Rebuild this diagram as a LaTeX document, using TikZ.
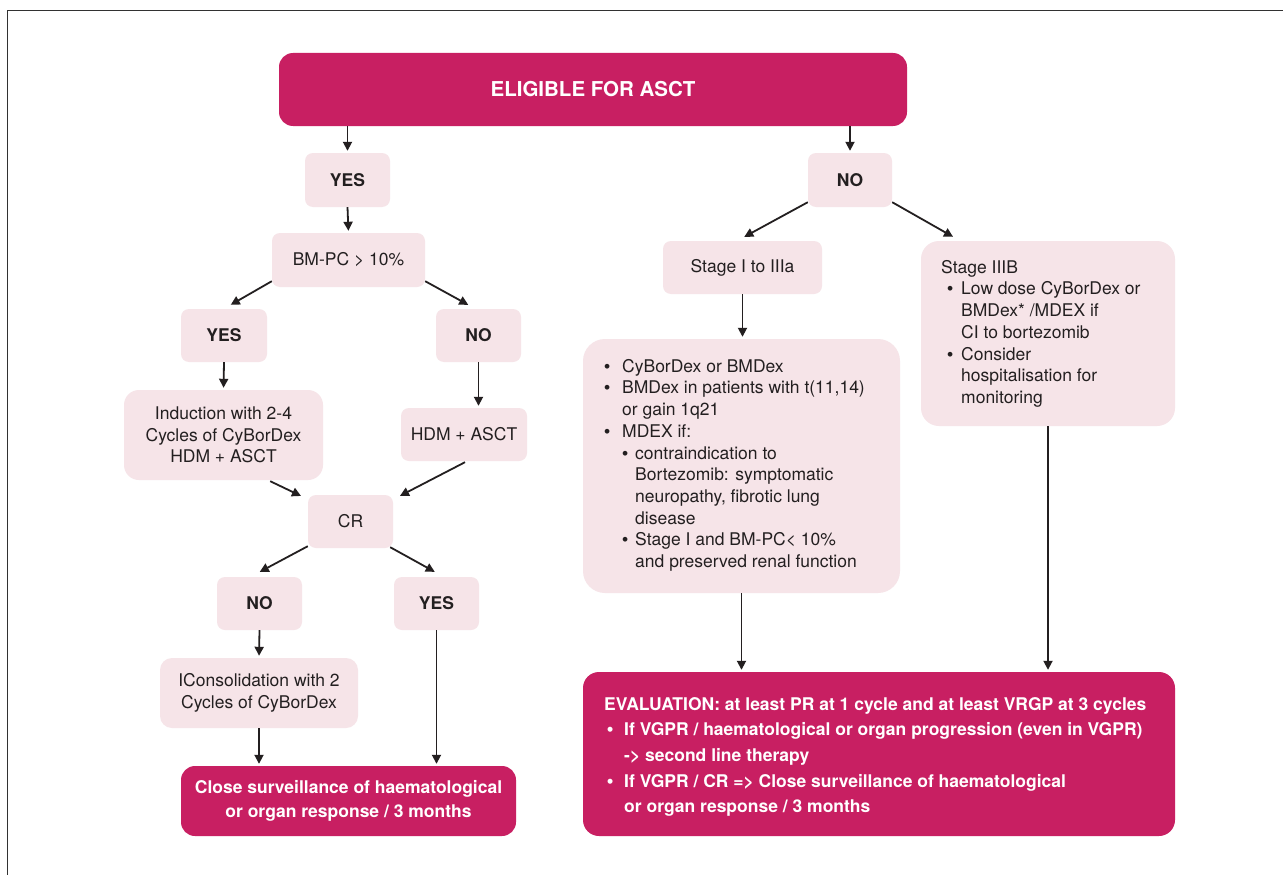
\documentclass[tikz,border=0pt]{standalone}
\usepackage{fontspec}
\setmainfont{TeX Gyre Heros}
\newfontfamily\bulfont{Liberation Sans}
\usetikzlibrary{arrows.meta,calc}
\definecolor{mag}{RGB}{200,31,98}
\definecolor{lpink}{RGB}{246,228,232}
\definecolor{ink}{RGB}{35,31,32}
\definecolor{framec}{RGB}{50,50,50}
\newcommand{\txtf}{\fontsize{17.5}{21.7}\selectfont}
\newcommand{\txtbf}{\fontsize{17.5}{24}\selectfont\bfseries}
\newcommand{\evalf}{\fontsize{17.5}{25.7}\selectfont\bfseries}
\newcommand{\titlef}{\fontsize{20.5}{24}\selectfont\bfseries}
\newcommand{\bdot}{{\bulfont •}}
\newcommand{\bul}{\makebox[18pt][l]{\bdot}}
\newcommand{\ind}{\makebox[18pt]{}}
\newcommand{\sbul}{\makebox[13pt][l]{\bdot}}
\newcommand{\sind}{\makebox[13pt]{}}
\newcommand{\tbul}{\makebox[20pt][l]{\hspace{6pt}\bdot}}
\newcommand{\tind}{\makebox[20pt]{}}
\newcommand{\ebul}{\makebox[20pt][l]{\hspace{3pt}\bdot}}
\newcommand{\eind}{\makebox[20pt]{}}
\begin{document}
\begin{tikzpicture}[x=1pt,y=-1pt,
  arr/.style={-{Triangle[length=9pt,width=9pt]}, line width=1.8pt, draw=ink, shorten >=2pt},
  lbox/.style={fill=lpink, rounded corners=8pt, inner sep=0pt, text=ink, font=\txtf, align=center},
  lboxb/.style={lbox, font=\txtbf},
  mbox/.style={fill=mag, rounded corners=14pt, inner sep=0pt, text=white, font=\txtbf, align=center},
  ltext/.style={anchor=north west, inner sep=0pt, text=ink, font=\txtf, align=left},
  etext/.style={anchor=north west, inner sep=0pt, text=white, font=\evalf, align=left}]
\useasboundingbox (0,0) rectangle (1283,875);
\fill[white] (0,0) rectangle (1283,875);
\draw[line width=1.5pt, framec] (7.5,875) -- (7.5,10.5) -- (1283,10.5);

% left branch
\node[mbox, font=\titlef, minimum width=628pt, minimum height=73pt] (title) at (593,89.5) {ELIGIBLE FOR ASCT};
\node[lboxb, minimum width=85pt, minimum height=54pt] (yes1) at (347.5,180) {YES};
\node[lboxb, minimum width=84pt, minimum height=54pt] (no1) at (850,180) {NO};
\node[lbox, minimum width=153pt, minimum height=54pt] (bm) at (348.5,260) {BM-PC > 10\%};
\node[lboxb, minimum width=86pt, minimum height=53pt] (yes2) at (224,335.5) {YES};
\node[lboxb, minimum width=85pt, minimum height=53pt] (no2) at (478.5,335.5) {NO};
\node[lbox, rounded corners=15pt, minimum width=199pt, minimum height=90pt] (ind) at (223.5,435) {Induction with 2-4\\Cycles of CyBorDex\\HDM + ASCT};
\node[lbox, minimum width=126pt, minimum height=53pt] (hdm) at (464,434.5) {HDM + ASCT};
\node[lbox, minimum width=85pt, minimum height=53pt] (cr) at (350.5,521.5) {CR};
\node[lboxb, minimum width=85pt, minimum height=53pt] (no3) at (259.5,603.5) {NO};
\node[lboxb, minimum width=85pt, minimum height=53pt] (yes3) at (436.5,603.5) {YES};
\node[lbox, rounded corners=12pt, minimum width=198pt, minimum height=70pt] (cons) at (259,693) {IConsolidation with 2\\Cycles of CyBorDex};
\node[mbox, minimum width=335pt, minimum height=70pt] (close) at (348.5,801) {Close surveillance of haematological\\or organ response / 3 months};

% right branch
\node[lbox, minimum width=159pt, minimum height=53pt] (st1) at (742.5,267.5) {Stage I to IIIa};
\node[lbox, rounded corners=18pt, minimum width=254pt, minimum height=185pt] (st3) at (1048,333.5) {};
\node[ltext] (st3t) at (941,260) {Stage IIIB\\
\tbul Low dose CyBorDex or\\
\tind BMDex* /MDEX if\\
\tind CI to bortezomib\\
\tbul Consider\\
\tind hospitalisation for\\
\tind monitoring};
\node[lbox, rounded corners=22pt, minimum width=317pt, minimum height=254pt] (big) at (741.5,466) {};
\node[ltext] (bigt) at (604,359) {\bul CyBorDex or BMDex\\
\bul BMDex in patients with t(11,14)\\
\ind or gain 1q21\\
\bul MDEX if:\\
\ind\sbul contraindication to\\
\ind\sind Bortezomib: symptomatic\\
\ind\sind neuropathy, fibrotic lung\\
\ind\sind disease\\
\ind\sbul Stage I and BM-PC< 10\%\\
\ind\sind and preserved renal function};
\node[mbox, rounded corners=16pt, minimum width=592pt, minimum height=164pt] (eval) at (879,754) {};
\node[etext] (evalt) at (604,697) {EVALUATION: at least PR at 1 cycle and at least VRGP at 3 cycles\\
\ebul If VGPR / haematological or organ progression (even in VGPR)\\
\eind -> second line therapy\\
\ebul If VGPR / CR => Close surveillance of haematological\\
\eind or organ response / 3 months};

% connectors
\draw[arr] (title.south -| yes1) -- (yes1.north);
\draw[arr] (title.south -| no1) -- (no1.north);
\draw[arr] (yes1.south) -- (bm.north);
\draw[arr] ($(bm.south west)+(0,-6)$) -- ($(yes2.north)+(5,-3)$);
\draw[arr] ($(bm.south east)+(0,-6)$) -- ($(no2.north)+(-8.5,-3)$);
\draw[arr] (yes2.south) -- (ind.north);
\draw[arr] (no2.south) -- (no2.south |- hdm.north);
\draw[arr] ($(ind.south east)+(-53,1)$) -- ($(cr.north west)+(-5,2)$);
\draw[arr] ($(hdm.south)+(1,1)$) -- ($(cr.north east)+(5,2)$);
\draw[arr] ($(cr.south west)+(0,-2)$) -- ($(no3.north)+(-1.5,-4)$);
\draw[arr] ($(cr.south east)+(-3,-1)$) -- ($(yes3.north)+(0,-4)$);
\draw[arr] (no3.south) -- (cons.north);
\draw[arr] (cons.south) -- (cons.south |- close.north);
\draw[arr] (yes3.south) -- (yes3.south |- close.north);
\draw[arr] ($(no1.south west)+(0,-5)$) -- ($(st1.north)+(0,-3)$);
\draw[arr] ($(no1.south east)+(0,-5)$) -- ($(st3.north west)+(34,-3)$);
\draw[arr] (st1.south) -- (st1.south |- big.north);
\draw[arr] (big.south) -- (big.south |- eval.north);
\draw[arr] (st3.south) -- (st3.south |- eval.north);
\end{tikzpicture}
\end{document}
